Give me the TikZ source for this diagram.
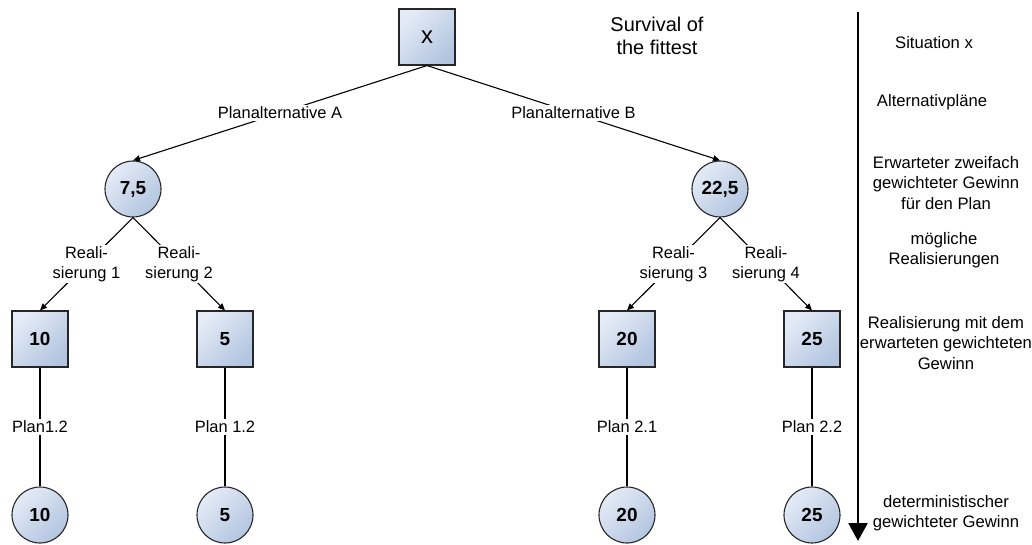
\documentclass[tikz,border=0pt]{standalone}
\usepackage{fontspec}
\setmainfont{Liberation Sans}
\usetikzlibrary{arrows.meta}

\definecolor{nodehi}{HTML}{E4EBF6}
\definecolor{nodelo}{HTML}{B3C5E0}
\definecolor{nodeline}{HTML}{262626}

\tikzset{
  valnode/.style={draw=nodeline, line width=1.1bp, inner sep=0pt,
    top color=nodehi, bottom color=nodelo, shading angle=45,
    font=\bfseries\fontsize{19}{22}\selectfont},
  valbox/.style={valnode, rectangle, minimum size=56bp},
  valcirc/.style={valnode, circle, minimum size=56bp},
  edgelab/.style={fill=white, inner sep=1.5bp, align=center,
    font=\fontsize{16.5}{20}\selectfont},
  sidelab/.style={align=center, font=\fontsize{16.7}{20.5}\selectfont},
  link/.style={line width=1.1bp, black},
  arrowlink/.style={link, -{Triangle[length=7bp,width=6bp]}},
}

\begin{document}
\begin{tikzpicture}[x=1bp,y=-1bp]
  \useasboundingbox (0,0) rectangle (1032,545);

  % root situation and title
  \node[valbox, font=\fontsize{24}{26}\selectfont] (root) at (427,37) {x};
  \node[align=center, font=\fontsize{20}{23}\selectfont] (title) at (657,36)
    {Survival of\\the fittest};

  % expected values of the two plans
  \node[valcirc] (pa) at (133,189) {7,5};
  \node[valcirc] (pb) at (720,189) {22,5};

  % realisations
  \node[valbox] (r1) at (40,339) {10};
  \node[valbox] (r2) at (225,339) {5};
  \node[valbox] (r3) at (627,339) {20};
  \node[valbox] (r4) at (812,339) {25};

  % deterministic outcomes
  \node[valcirc] (d1) at (40,515) {10};
  \node[valcirc] (d2) at (225,515) {5};
  \node[valcirc] (d3) at (627,515) {20};
  \node[valcirc] (d4) at (812,515) {25};

  % plan alternatives
  \draw[arrowlink] (root.south) -- node[edgelab] {Planalternative A} (pa.north);
  \draw[arrowlink] (root.south) -- node[edgelab] {Planalternative B} (pb.north);

  % possible realisations
  \draw[arrowlink] (pa.south) -- node[edgelab] {Reali-\\sierung 1} (r1.north);
  \draw[arrowlink] (pa.south) -- node[edgelab] {Reali-\\sierung 2} (r2.north);
  \draw[arrowlink] (pb.south) -- node[edgelab] {Reali-\\sierung 3} (r3.north);
  \draw[arrowlink] (pb.south) -- node[edgelab] {Reali-\\sierung 4} (r4.north);

  % chosen plans
  \draw[link] (r1.south) -- node[edgelab] {Plan1.2} (d1.north);
  \draw[link] (r2.south) -- node[edgelab] {Plan 1.2} (d2.north);
  \draw[link] (r3.south) -- node[edgelab] {Plan 2.1} (d3.north);
  \draw[link] (r4.south) -- node[edgelab] {Plan 2.2} (d4.north);

  % level axis
  \coordinate (axtop) at (858,12);
  \coordinate (axbot) at (858,541);
  \draw[line width=2.6bp, -{Triangle[length=18bp,width=19bp]}] (axtop) -- (axbot);

  % level descriptions
  \node[sidelab] (l1) at (934,43) {Situation x};
  \node[sidelab] (l2) at (932,102) {Alternativpläne};
  \node[sidelab] (l3) at (946,183) {Erwarteter zweifach\\gewichteter Gewinn\\für den Plan};
  \node[sidelab] (l4) at (944,250) {mögliche\\Realisierungen};
  \node[sidelab] (l5) at (946,343) {Realisierung mit dem\\erwarteten gewichteten\\Gewinn};
  \node[sidelab] (l6) at (946,513) {deterministischer\\gewichteter Gewinn};
\end{tikzpicture}
\end{document}
